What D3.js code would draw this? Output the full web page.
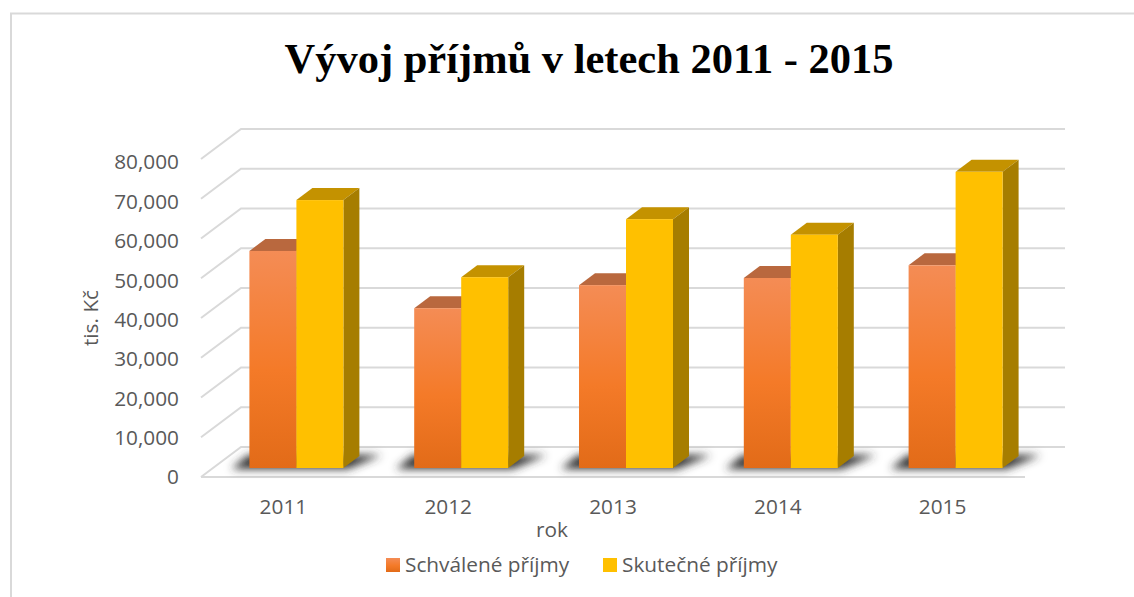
<!DOCTYPE html>
<html>
<head>
<meta charset="utf-8">
<script src="https://cdn.jsdelivr.net/npm/d3@7"></script>
<style>
    html, body { margin: 0; padding: 0; background: #fff; overflow: hidden; }
    text { font-family: "Open Sans", sans-serif; fill: #595959; }
</style>
</head>
<body>
<div id="chart"></div>
<script>
// Values (tis. Kč)
const years = ["2011", "2012", "2013", "2014", "2015"];
const schvalene = [54600, 40200, 46000, 47800, 51000];
const skutecne = [67400, 48000, 62600, 58700, 74500];
const seriesNames = ["Schválené příjmy", "Skutečné příjmy"];
const yTicks = [0, 10000, 20000, 30000, 40000, 50000, 60000, 70000, 80000];

const width = 1134;
const height = 597;

// Front edge of the floor, the back wall sits up and to the right of it
const left = 201, right = 1025, floorY = 477, topY = 159;
const wallDx = 40, wallDy = -30;
// Bars stand in the middle of the floor
const depthDx = 16, depthDy = -12;
const barDx = 13, barDy = -9;

const x = d3.scaleBand().domain(years).range([left, right]);
const series = d3.scaleBand().domain(seriesNames).range([0, 94]);
const y = d3.scaleLinear().domain([0, 80000]).range([floorY, topY]);
// Tick labels run a little tighter than the gridlines
const yLabel = d3.scaleLinear().domain([0, 80000]).range([477.3, 162.3]);

const svg = d3.select("#chart").append("svg")
    .attr("width", width)
    .attr("height", height)
    .style("display", "block");

const defs = svg.append("defs");

// Orange face gradient
const grad = defs.append("linearGradient")
    .attr("id", "orange")
    .attr("x1", 0).attr("y1", 0).attr("x2", 0).attr("y2", 1);
grad.append("stop").attr("offset", "0%").attr("stop-color", "#f48c55");
grad.append("stop").attr("offset", "55%").attr("stop-color", "#f47a28");
grad.append("stop").attr("offset", "100%").attr("stop-color", "#e26b18");

defs.append("filter")
    .attr("id", "blur")
    .attr("x", "-20%").attr("y", "-100%").attr("width", "140%").attr("height", "300%")
    .append("feGaussianBlur")
    .attr("stdDeviation", 4);

// Chart frame, only top and left are inside the crop
svg.append("path")
    .attr("d", d3.line()([[width, 13.5], [11, 13.5], [11, height]]))
    .attr("fill", "none")
    .attr("stroke", "#d9d9d9")
    .attr("stroke-width", 2);

// Gridlines: side wall + back wall, the bottom one is the floor
let grid = svg.append("g")
    .attr("fill", "none")
    .attr("stroke", "#d9d9d9")
    .attr("stroke-width", 2);

grid.selectAll("path")
    .data(yTicks)
    .enter()
    .append("path")
    .attr("d", function(d) {
        return d3.line()([
            [left, y(d)],
            [left + wallDx, y(d) + wallDy],
            [right + wallDx, y(d) + wallDy]
        ]);
    });

// Front edge of the floor
grid.append("path")
    .attr("d", d3.line()([[left, floorY], [right, floorY]]));

// One group per year
let groups = svg.selectAll("g.year")
    .data(years)
    .enter()
    .append("g")
    .attr("class", "year");

// Shadow on the floor
groups.append("path")
    .attr("d", function(d) {
        let x0 = x(d) + barDx + (x.bandwidth() - series.range()[1]) / 2;
        let b = floorY + barDy;
        return d3.line()([
            [x0 - 18, b + 1],
            [x0 + 98, b + 1],
            [x0 + 132, b - 13],
            [x0 - 1, b - 13]
        ]);
    })
    .attr("fill", "#333")
    .attr("filter", "url(#blur)");

function drawBar(g, values, name, front, top, side) {
    let bars = g.append("g")
        .attr("transform", function(d) {
            let x0 = x(d) + (x.bandwidth() - series.range()[1]) / 2;
            return "translate(" + (x0 + barDx + series(name)) + "," + barDy + ")";
        });
    let w = series.bandwidth();

    bars.append("path")
        .attr("fill", top)
        .attr("d", function(d) {
            let t = y(values[years.indexOf(d)]);
            return d3.line()([[0, t], [depthDx, t + depthDy], [w + depthDx, t + depthDy], [w, t]]);
        });
    bars.append("path")
        .attr("fill", side)
        .attr("d", function(d) {
            let t = y(values[years.indexOf(d)]);
            return d3.line()([[w, t], [w + depthDx, t + depthDy], [w + depthDx, floorY + depthDy], [w, floorY]]);
        });
    bars.append("rect")
        .attr("fill", front)
        .attr("width", w)
        .attr("y", function(d) { return y(values[years.indexOf(d)]); })
        .attr("height", function(d) { return floorY - y(values[years.indexOf(d)]); });
}

drawBar(groups, schvalene, seriesNames[0], "url(#orange)", "#b9683e", "#a85a26");
drawBar(groups, skutecne, seriesNames[1], "#ffc000", "#c49200", "#a67d00");

// Axes, labels only
let yAxis = svg.append("g")
    .attr("transform", "translate(" + left + ",0)")
    .call(d3.axisLeft(yLabel).tickValues(yTicks).tickFormat(d3.format(",")).tickSize(0).tickPadding(22));
yAxis.select(".domain").remove();
yAxis.selectAll("text")
    .attr("font-size", 20.8)
    .style("font-family", '"Open Sans", sans-serif');

let xAxis = svg.append("g")
    .attr("transform", "translate(0," + floorY + ")")
    .call(d3.axisBottom(x).tickSize(0).tickPadding(22));
xAxis.select(".domain").remove();
xAxis.selectAll("text")
    .attr("font-size", 20.8)
    .style("font-family", '"Open Sans", sans-serif');

// Title
svg.append("text")
    .attr("x", 589)
    .attr("y", 73)
    .attr("text-anchor", "middle")
    .attr("font-size", 42.5)
    .attr("font-weight", "bold")
    .style("font-family", '"Liberation Serif", serif')
    .style("fill", "#000")
    .text("Vývoj příjmů v letech 2011 - 2015");

// Axis titles
svg.append("text")
    .attr("transform", "translate(98,318) rotate(-90)")
    .attr("text-anchor", "middle")
    .attr("font-size", 20.8)
    .text("tis. Kč");

svg.append("text")
    .attr("x", 552)
    .attr("y", 537)
    .attr("text-anchor", "middle")
    .attr("font-size", 20.8)
    .text("rok");

// Legend
let legendX = [386, 603];
let legend = svg.selectAll("g.legend")
    .data(seriesNames)
    .enter()
    .append("g")
    .attr("class", "legend")
    .attr("transform", function(d, i) { return "translate(" + legendX[i] + ",558)"; });

legend.append("rect")
    .attr("width", 14)
    .attr("height", 14)
    .attr("fill", function(d, i) { return i === 0 ? "url(#orange)" : "#ffc000"; });

legend.append("text")
    .attr("x", 19)
    .attr("y", 14)
    .attr("font-size", 20.8)
    .text(function(d) { return d; });
</script>
</body>
</html>
